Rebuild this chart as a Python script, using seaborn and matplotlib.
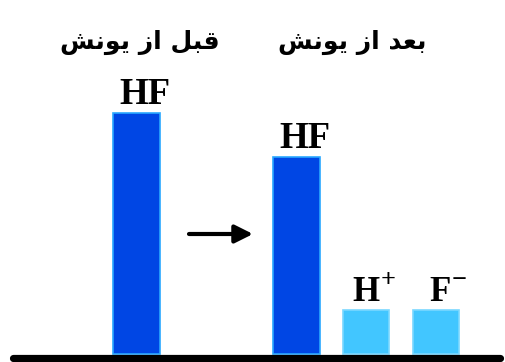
import matplotlib
matplotlib.use("Agg")
import matplotlib.pyplot as plt
import seaborn as sns
import pandas as pd

# Relative amounts of each species (one unit = height of an ion bar)
species = ["HF_before", "HF_after", "H+", "F-"]
amounts = [5.48, 4.48, 1.0, 1.0]
label_base = ["HF", "HF", "H", "F"]
label_charge = ["", "", "+", "\u2212"]
headings = ["قبل از یونش", "بعد از یونش"]

# Layout (pixel positions of bar centres, and vertical scale)
x_pos = [136.5, 296.5, 366.0, 436.0]
PX_PER_UNIT = 44.0
W, H = 506, 362
BASE_PX = 354  # baseline, pixels from top

bar_colors = ["#0046e4", "#0046e4", "#42c6ff", "#42c6ff"]
edge_colors = ["#2aa8ff", "#2aa8ff", "#7ad8ff", "#7ad8ff"]

# Arabic presentation forms so the text is shaped and shown right-to-left
SHAPED = {
    "قبل از یونش": "\uFEB6\uFEE7\uFEEE\uFBFE \uFEAF\uFE8D \uFEDE\uFE92\uFED7",
    "بعد از یونش": "\uFEB6\uFEE7\uFEEE\uFBFE \uFEAF\uFE8D \uFEAA\uFECC\uFE91",
}

sns.set_theme(style="white")

fig = plt.figure(figsize=(W / 100, H / 100), dpi=100)
ax = fig.add_axes([0, 0, 1, 1])

df = pd.DataFrame({"x": x_pos, "amount": amounts, "species": species})
sns.barplot(data=df, x="x", y="amount", hue="species", palette=bar_colors,
            native_scale=True, dodge=False, width=0.664, legend=False,
            saturation=1, linewidth=1.2, ax=ax)
for patch, ec in zip(ax.patches, edge_colors):
    patch.set_edgecolor(ec)

def ypx(px_from_top):
    return (BASE_PX - px_from_top) / PX_PER_UNIT

ax.set_xlim(0, W)
ax.set_ylim(ypx(H), ypx(0))
ax.axis("off")

# Species labels above the bars (charges as raised signs)
serif = dict(family="Liberation Serif", fontweight="bold", color="black")
label_dx = [8.5, 8.5, 0, 4]
label_size = [26.5, 26.5, 25, 25]
for xp, amt, base, chg, dx, fs in zip(x_pos, amounts, label_base,
                                      label_charge, label_dx, label_size):
    t = ax.text(xp + dx, amt + 0.02, base, ha="center", va="bottom",
                fontsize=fs, **serif)
    if chg:
        ax.annotate(chg, xy=(1, 1), xycoords=t, xytext=(1, -3),
                    textcoords="offset points", ha="left", va="center",
                    fontsize=19, **serif)

# Headings
for txt, xc in zip(headings, [140, 352]):
    ax.text(xc, ypx(42), SHAPED[txt], ha="center", va="center",
            fontsize=18, fontweight="bold", family="DejaVu Sans", color="black")

# Reaction arrow
ax.annotate("", xy=(253, ypx(234)), xytext=(189, ypx(234)),
            arrowprops=dict(arrowstyle="-|>,head_length=0.9,head_width=0.45",
                            color="black", lw=3.0, shrinkA=0, shrinkB=0))

# Baseline
ax.plot([13, 500], [ypx(357.5), ypx(357.5)], color="black", lw=5.2,
        solid_capstyle="round", zorder=5)

fig.savefig("out.png", dpi=100)
